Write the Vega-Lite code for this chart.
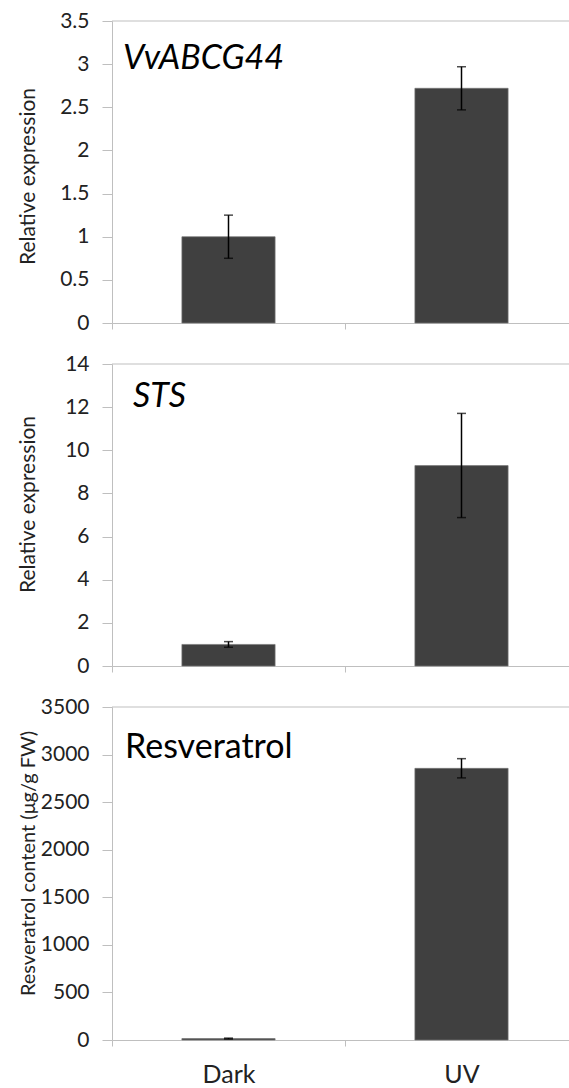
{
  "$schema": "https://vega.github.io/schema/vega-lite/v6.json",
  "padding": {"left": 16, "top": 10, "right": 0, "bottom": 0},
  "bounds": "flush",
  "spacing": 41,
  "datasets": {
    "bars": [
      {"panel": "A", "cond": "Dark", "value": 1.0, "lo": 0.75, "hi": 1.25},
      {"panel": "A", "cond": "UV", "value": 2.72, "lo": 2.47, "hi": 2.97},
      {"panel": "B", "cond": "Dark", "value": 1.0, "lo": 0.87, "hi": 1.13},
      {"panel": "B", "cond": "UV", "value": 9.29, "lo": 6.88, "hi": 11.71},
      {"panel": "C", "cond": "Dark", "value": 15, "lo": 10, "hi": 20},
      {"panel": "C", "cond": "UV", "value": 2855, "lo": 2755, "hi": 2957}
    ]
  },
  "config": {
    "font": "Lato",
    "view": {"stroke": null},
    "axis": {
      "domainColor": "#bfbfbf",
      "tickColor": "#bfbfbf",
      "labelColor": "#222222",
      "titleColor": "#222222",
      "labelFont": "Lato",
      "titleFont": "Lato",
      "titleFontWeight": "normal",
      "grid": false
    }
  },
  "vconcat": [
    {
      "width": 466,
      "height": 302,
      "layer": [
        {
          "data": {"name": "bars"},
          "transform": [{"filter": "datum.panel === 'A'"}],
          "mark": {"type": "bar", "color": "#404040", "stroke": "#777777", "strokeWidth": 0.7, "width": {"band": 0.4}},
          "encoding": {
            "x": {"field": "cond", "type": "nominal", "sort": ["Dark", "UV"],
              "scale": {"paddingInner": 0, "paddingOuter": 0},
              "axis": {"title": null, "labels": false, "tickSize": 6, "tickBand": "extent"}},
            "y": {"field": "value", "type": "quantitative", "title": "Relative expression",
              "scale": {"domain": [0, 3.5], "nice": false},
              "axis": {"values": [0, 0.5, 1, 1.5, 2, 2.5, 3, 3.5], "format": "~g", "labelFontSize": 21, "tickSize": 10, "labelPadding": 13, "titleFontSize": 21, "titleX": -74, "titleY": 155}}
          }
        },
        {
          "data": {"name": "bars"},
          "transform": [{"filter": "datum.panel === 'A'"}],
          "mark": {"type": "rule", "color": "#000000", "strokeWidth": 1.5},
          "encoding": {
            "x": {"field": "cond", "type": "nominal", "sort": ["Dark", "UV"]},
            "y": {"field": "lo", "type": "quantitative", "title": "Relative expression"},
            "y2": {"field": "hi"}
          }
        },
        {
          "data": {"name": "bars"},
          "transform": [{"filter": "datum.panel === 'A'"}],
          "mark": {"type": "tick", "color": "#000000", "size": 9, "thickness": 1.5},
          "encoding": {
            "x": {"field": "cond", "type": "nominal", "sort": ["Dark", "UV"]},
            "y": {"field": "lo", "type": "quantitative", "title": "Relative expression"}
          }
        },
        {
          "data": {"name": "bars"},
          "transform": [{"filter": "datum.panel === 'A'"}],
          "mark": {"type": "tick", "color": "#000000", "size": 9, "thickness": 1.5},
          "encoding": {
            "x": {"field": "cond", "type": "nominal", "sort": ["Dark", "UV"]},
            "y": {"field": "hi", "type": "quantitative", "title": "Relative expression"}
          }
        },
        {
          "data": {"values": [{"t": "VvABCG44"}]},
          "mark": {"type": "rule", "color": "#bfbfbf"},
          "encoding": {"y": {"datum": 3.5, "type": "quantitative"}}
        },
        {
          "data": {"values": [{"t": "VvABCG44"}]},
          "mark": {"type": "text", "fontSize": 34, "fontStyle": "italic", "align": "left", "baseline": "alphabetic", "dx": 11, "color": "#000000"},
          "encoding": {
            "text": {"field": "t"},
            "x": {"datum": "Dark", "type": "nominal", "bandPosition": 0},
            "y": {"datum": 2.94, "type": "quantitative"}
          }
        }
      ]
    },
    {
      "width": 466,
      "height": 302,
      "layer": [
        {
          "data": {"name": "bars"},
          "transform": [{"filter": "datum.panel === 'B'"}],
          "mark": {"type": "bar", "color": "#404040", "stroke": "#777777", "strokeWidth": 0.7, "width": {"band": 0.4}},
          "encoding": {
            "x": {"field": "cond", "type": "nominal", "sort": ["Dark", "UV"],
              "scale": {"paddingInner": 0, "paddingOuter": 0},
              "axis": {"title": null, "labels": false, "tickSize": 6, "tickBand": "extent"}},
            "y": {"field": "value", "type": "quantitative", "title": "Relative expression",
              "scale": {"domain": [0, 14], "nice": false},
              "axis": {"values": [0, 2, 4, 6, 8, 10, 12, 14], "format": "d", "labelFontSize": 21, "tickSize": 10, "labelPadding": 13, "titleFontSize": 21, "titleX": -74, "titleY": 140}}
          }
        },
        {
          "data": {"name": "bars"},
          "transform": [{"filter": "datum.panel === 'B'"}],
          "mark": {"type": "rule", "color": "#000000", "strokeWidth": 1.5},
          "encoding": {
            "x": {"field": "cond", "type": "nominal", "sort": ["Dark", "UV"]},
            "y": {"field": "lo", "type": "quantitative", "title": "Relative expression"},
            "y2": {"field": "hi"}
          }
        },
        {
          "data": {"name": "bars"},
          "transform": [{"filter": "datum.panel === 'B'"}],
          "mark": {"type": "tick", "color": "#000000", "size": 9, "thickness": 1.5},
          "encoding": {
            "x": {"field": "cond", "type": "nominal", "sort": ["Dark", "UV"]},
            "y": {"field": "lo", "type": "quantitative", "title": "Relative expression"}
          }
        },
        {
          "data": {"name": "bars"},
          "transform": [{"filter": "datum.panel === 'B'"}],
          "mark": {"type": "tick", "color": "#000000", "size": 9, "thickness": 1.5},
          "encoding": {
            "x": {"field": "cond", "type": "nominal", "sort": ["Dark", "UV"]},
            "y": {"field": "hi", "type": "quantitative", "title": "Relative expression"}
          }
        },
        {
          "data": {"values": [{"t": "STS"}]},
          "mark": {"type": "rule", "color": "#bfbfbf"},
          "encoding": {"y": {"datum": 14, "type": "quantitative"}}
        },
        {
          "data": {"values": [{"t": "STS"}]},
          "mark": {"type": "text", "fontSize": 34, "fontStyle": "italic", "align": "left", "baseline": "alphabetic", "dx": 21, "color": "#000000"},
          "encoding": {
            "text": {"field": "t"},
            "x": {"datum": "Dark", "type": "nominal", "bandPosition": 0},
            "y": {"datum": 12.0, "type": "quantitative"}
          }
        }
      ]
    },
    {
      "width": 466,
      "height": 333,
      "layer": [
        {
          "data": {"name": "bars"},
          "transform": [{"filter": "datum.panel === 'C'"}],
          "mark": {"type": "bar", "color": "#404040", "stroke": "#777777", "strokeWidth": 0.7, "width": {"band": 0.4}},
          "encoding": {
            "x": {"field": "cond", "type": "nominal", "sort": ["Dark", "UV"],
              "scale": {"paddingInner": 0, "paddingOuter": 0},
              "axis": {"title": null, "labelAngle": 0, "labelFontSize": 25, "labelPadding": 16, "tickSize": 6, "tickBand": "extent"}},
            "y": {"field": "value", "type": "quantitative", "title": "Resveratrol content (μg/g FW)",
              "scale": {"domain": [0, 3500], "nice": false},
              "axis": {"values": [0, 500, 1000, 1500, 2000, 2500, 3000, 3500], "format": "d", "labelFontSize": 21, "tickSize": 10, "labelPadding": 13, "titleFontSize": 20, "titleX": -74, "titleY": 156}}
          }
        },
        {
          "data": {"name": "bars"},
          "transform": [{"filter": "datum.panel === 'C'"}],
          "mark": {"type": "rule", "color": "#000000", "strokeWidth": 1.5},
          "encoding": {
            "x": {"field": "cond", "type": "nominal", "sort": ["Dark", "UV"]},
            "y": {"field": "lo", "type": "quantitative", "title": "Resveratrol content (μg/g FW)"},
            "y2": {"field": "hi"}
          }
        },
        {
          "data": {"name": "bars"},
          "transform": [{"filter": "datum.panel === 'C'"}],
          "mark": {"type": "tick", "color": "#000000", "size": 9, "thickness": 1.5},
          "encoding": {
            "x": {"field": "cond", "type": "nominal", "sort": ["Dark", "UV"]},
            "y": {"field": "lo", "type": "quantitative", "title": "Resveratrol content (μg/g FW)"}
          }
        },
        {
          "data": {"name": "bars"},
          "transform": [{"filter": "datum.panel === 'C'"}],
          "mark": {"type": "tick", "color": "#000000", "size": 9, "thickness": 1.5},
          "encoding": {
            "x": {"field": "cond", "type": "nominal", "sort": ["Dark", "UV"]},
            "y": {"field": "hi", "type": "quantitative", "title": "Resveratrol content (μg/g FW)"}
          }
        },
        {
          "data": {"values": [{"t": "Resveratrol"}]},
          "mark": {"type": "rule", "color": "#bfbfbf"},
          "encoding": {"y": {"datum": 3500, "type": "quantitative"}}
        },
        {
          "data": {"values": [{"t": "Resveratrol"}]},
          "mark": {"type": "text", "fontSize": 34, "align": "left", "baseline": "alphabetic", "dx": 13, "color": "#000000"},
          "encoding": {
            "text": {"field": "t"},
            "x": {"datum": "Dark", "type": "nominal", "bandPosition": 0},
            "y": {"datum": 2964, "type": "quantitative"}
          }
        }
      ]
    }
  ]
}
